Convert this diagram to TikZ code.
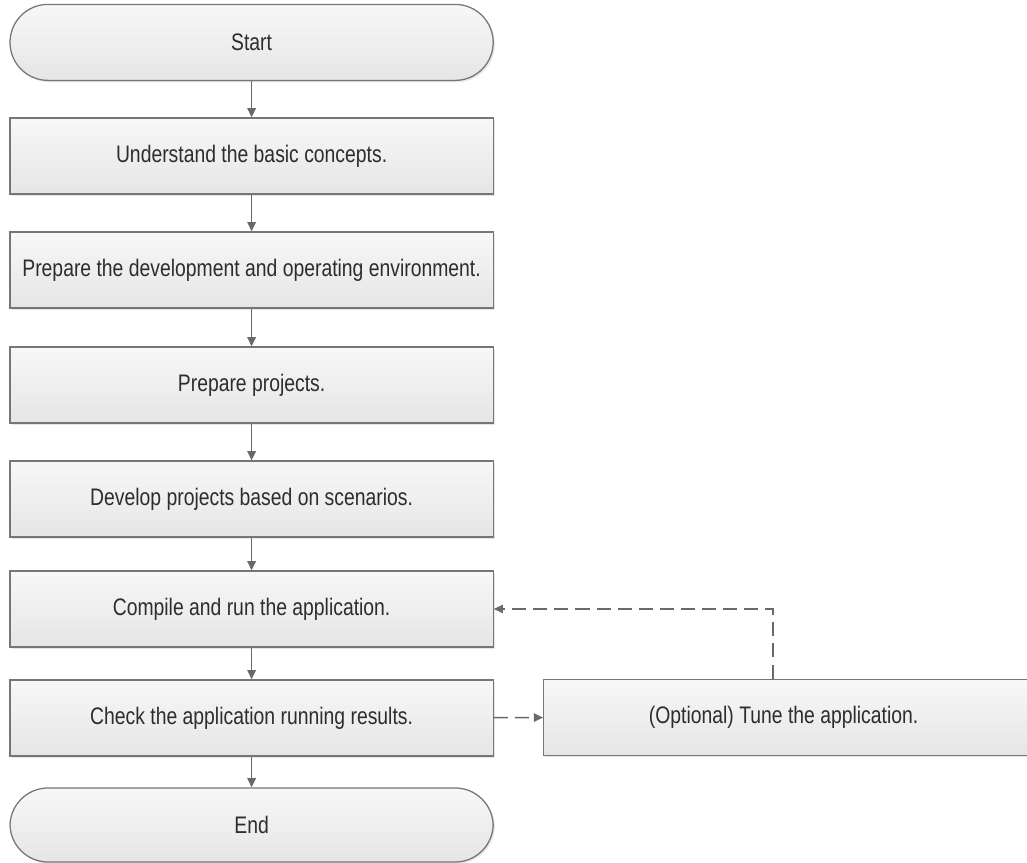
\documentclass[tikz,border=0pt]{standalone}
\usepackage{fontspec}
\setmainfont{Liberation Sans}[FakeStretch=0.81]
\usetikzlibrary{arrows.meta,shadows}

\definecolor{boxline}{RGB}{118,118,118}
\definecolor{arrline}{RGB}{105,105,105}
\definecolor{txtgray}{RGB}{45,45,45}

\begin{document}
\begin{tikzpicture}[
    stepbox/.style={draw=boxline, line width=0.9pt, minimum width=12.08cm, minimum height=1.9cm, align=center,
        font=\fontsize{17}{20}\selectfont, text=txtgray, top color=white!97!black, bottom color=white!90!black,
        drop shadow={opacity=0.2, shadow xshift=1.2pt, shadow yshift=-1.2pt}},
    term/.style={stepbox, rounded corners=0.95cm},
    arr/.style={-{Triangle[length=6.5pt,width=6pt]}, line width=1pt, arrline},
    opt/.style={arr, dash pattern=on 10pt off 5pt}
]
\useasboundingbox (0,0) rectangle (25.675,-21.575);

\node[term] (start) at (6.29,-1.06) {Start};
\node[stepbox] (concepts) at (6.29,-3.9) {Understand the basic concepts.};
\node[stepbox] (env) at (6.29,-6.75) {Prepare the development and operating environment.};
\node[stepbox] (proj) at (6.29,-9.625) {Prepare projects.};
\node[stepbox] (dev) at (6.29,-12.475) {Develop projects based on scenarios.};
\node[stepbox] (compile) at (6.29,-15.225) {Compile and run the application.};
\node[stepbox] (check) at (6.29,-17.95) {Check the application running results.};
\node[term, minimum height=1.85cm] (end) at (6.29,-20.625) {End};
% runs off the right edge of the page
\node[stepbox, minimum width=12.7cm, anchor=west] (tune) at (13.575,-17.93) {\hspace*{-0.7cm}(Optional) Tune the application.};
\coordinate (turn) at (19.325,-15.225);

\draw[arr] (start) -- (concepts);
\draw[arr] (concepts) -- (env);
\draw[arr] (env) -- (proj);
\draw[arr] (proj) -- (dev);
\draw[arr] (dev) -- (compile);
\draw[arr] (compile) -- (check);
\draw[arr] (check) -- (end);
\draw[opt] (check) -- (tune);
\draw[opt] (tune.north -| turn) -- (turn) -- (compile.east);
\end{tikzpicture}
\end{document}
